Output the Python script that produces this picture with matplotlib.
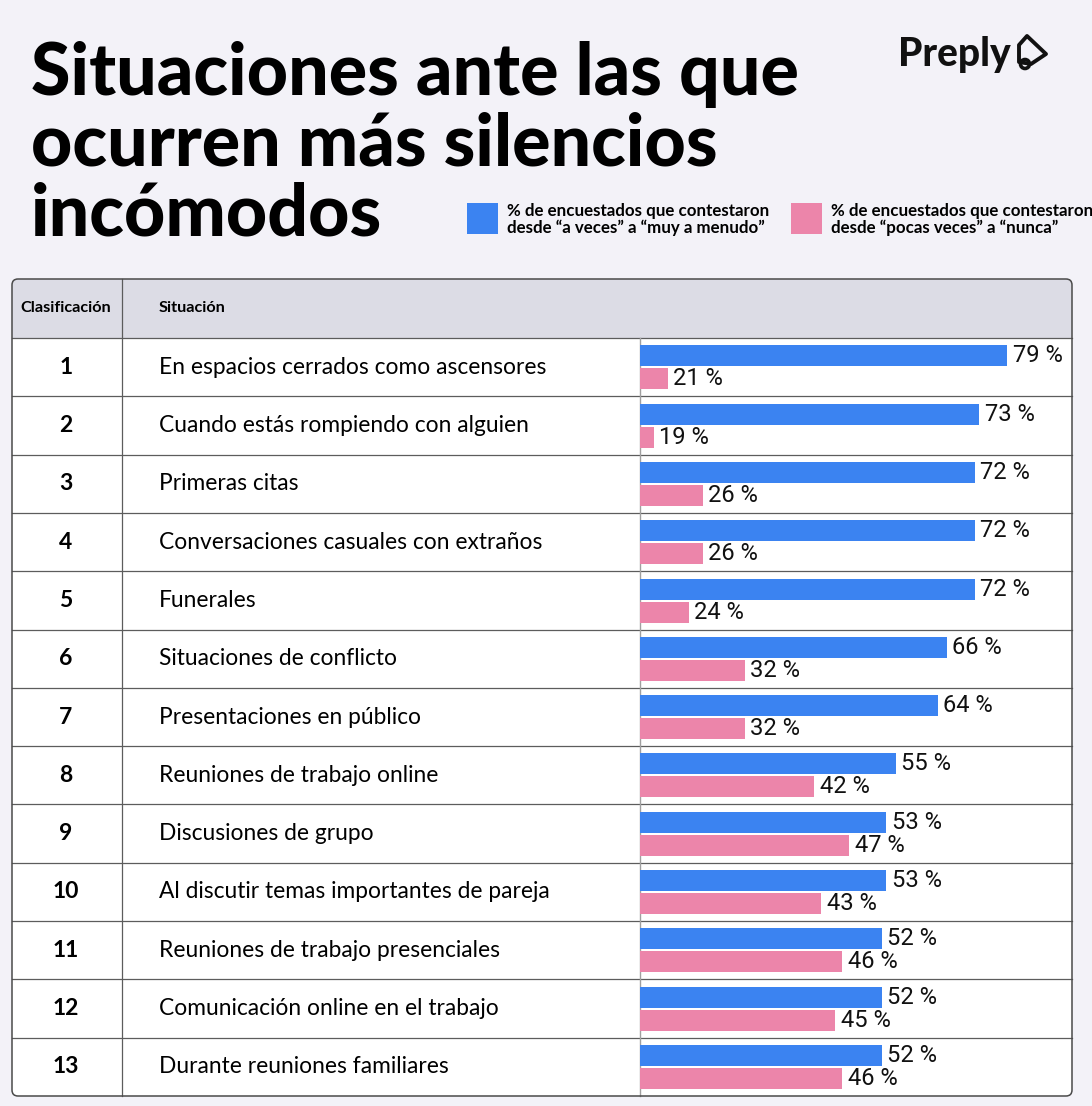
import numpy as np
import matplotlib.pyplot as plt
from matplotlib.patches import FancyBboxPatch, Rectangle, Polygon, Circle
from matplotlib.font_manager import FontProperties
from matplotlib.textpath import TextPath

# datos
ranks = list(range(1, 14))
situaciones = [
    "En espacios cerrados como ascensores",
    "Cuando estás rompiendo con alguien",
    "Primeras citas",
    "Conversaciones casuales con extraños",
    "Funerales",
    "Situaciones de conflicto",
    "Presentaciones en público",
    "Reuniones de trabajo online",
    "Discusiones de grupo",
    "Al discutir temas importantes de pareja",
    "Reuniones de trabajo presenciales",
    "Comunicación online en el trabajo",
    "Durante reuniones familiares",
]
a_menudo = [79, 73, 72, 72, 72, 66, 64, 55, 53, 53, 52, 52, 52]
pocas_veces = [21, 19, 26, 26, 24, 32, 32, 42, 47, 43, 46, 45, 46]

titulo = ["Situaciones ante las que", "ocurren más silencios", "incómodos"]
leyenda = ["% de encuestados que contestaron\ndesde “a veces” a “muy a menudo”",
           "% de encuestados que contestaron\ndesde “pocas veces” a “nunca”"]
cabecera = ["Clasificación", "Situación"]

AZUL = "#3b83f1"
ROSA = "#ec85aa"
FONDO = "#f3f2f8"
GRIS_CAB = "#dcdce5"
LINEA = "#5c5c5c"

TITLE_FONT = dict(family=["Lato", "DejaVu Sans"], weight="black")
BODY_FONT = dict(family=["Lato", "DejaVu Sans"])
BOLD_FONT = dict(family=["Lato", "DejaVu Sans"], weight="bold")
LEG_FONT = dict(family=["Lato", "DejaVu Sans"], weight="bold")
LABEL_FONT = dict(family=["Liberation Sans Narrow", "Roboto", "DejaVu Sans"])


def fit(s, px, **font):
    # font size (pt) so that the ink width of s is px pixels at dpi 100
    w = TextPath((0, 0), s, size=100, prop=FontProperties(**font)).get_extents().width
    return 72 * px / w


W, H = 1092, 1106
fig = plt.figure(figsize=(W / 100, H / 100), dpi=100)
fig.patch.set_facecolor(FONDO)

bg = fig.add_axes([0, 0, 1, 1])
bg.set_xlim(0, W)
bg.set_ylim(H, 0)
bg.axis("off")

# titulo
ts = fit(titulo[0], 764, **TITLE_FONT)
for linea, yb in zip(titulo, [95, 165, 235]):
    bg.text(31, yb, linea, fontsize=ts, va="baseline", ha="left", color="black", **TITLE_FONT)

# logo
bg.text(898, 66, "Preply", fontsize=fit("Preply", 110, **TITLE_FONT), va="baseline", color="#111111", **TITLE_FONT)
bg.add_patch(Polygon([(1019, 62), (1019, 45), (1027, 36), (1046, 54), (1031, 64)], closed=True,
                     fill=False, ec="#111111", lw=2.8, joinstyle="round"))
bg.add_patch(Circle((1025, 64), 4.5, fill=False, ec="#111111", lw=2.6))

# leyenda
ls = fit("% de encuestados que contestaron", 261, **LEG_FONT)
for x0, col, txt in zip([467, 791], [AZUL, ROSA], leyenda):
    bg.add_patch(Rectangle((x0, 203), 31, 31, color=col, lw=0))
    bg.text(x0 + 40, 219.5, txt, fontsize=ls, va="center", ha="left", linespacing=1.0, **LEG_FONT)

# tabla
top, head, bottom = 279, 338, 1096
left, right = 12, 1072
frame = FancyBboxPatch((left, top), right - left, bottom - top,
                       boxstyle="round,pad=0,rounding_size=6", fc="white", ec="none", zorder=0)
bg.add_patch(frame)
cab = Rectangle((left, top), right - left, head - top, fc=GRIS_CAB, ec="none", zorder=1)
bg.add_patch(cab)
cab.set_clip_path(frame)

hs = fit(cabecera[0], 89, **BOLD_FONT)
bg.text(66, 308, cabecera[0], fontsize=hs, ha="center", va="center", **BOLD_FONT)
bg.text(159, 308, cabecera[1], fontsize=hs, ha="left", va="center", **BOLD_FONT)

row_h = (bottom - head) / len(ranks)
bs = fit(situaciones[0], 383, **BODY_FONT)
for i, (r, s) in enumerate(zip(ranks, situaciones)):
    yc = head + (i + 0.5) * row_h
    bg.text(66, yc, str(r), fontsize=16.5, ha="center", va="center", **BOLD_FONT)
    bg.text(159, yc, s, fontsize=bs, ha="left", va="center", **BODY_FONT)
    bg.plot([left, right], [head + i * row_h] * 2, color=LINEA, lw=0.9, zorder=2)

bg.plot([122, 122], [top, bottom], color=LINEA, lw=0.9, zorder=2)
bg.plot([640, 640], [head, bottom], color="#a0a0a0", lw=1.0, zorder=2)
bg.add_patch(FancyBboxPatch((left, top), right - left, bottom - top,
                            boxstyle="round,pad=0,rounding_size=6", fc="none", ec="#4a4a4a",
                            lw=1.1, zorder=3))

# barras
ax = fig.add_axes([640 / W, 1 - bottom / H, (right - 640) / W, (bottom - head) / H])
y = np.arange(len(ranks))
ax.set_xlim(0, (right - 640) / 4.65)
ax.set_ylim(len(ranks) - 0.5, -0.5)
ax.barh(y - 0.195, a_menudo, height=0.36, color=AZUL, zorder=3)
lab = fit("79 %", 48, **LABEL_FONT)
for yi, v in zip(y, a_menudo):
    ax.annotate(f"{v} %", (v, yi - 0.195), xytext=(4, 0), textcoords="offset points",
                ha="left", va="center", fontsize=lab, color="#111111", **LABEL_FONT)
ax.axis("off")

ax2 = ax.twiny()
p0 = 17
ax2.set_xlim(p0, p0 + (right - 640) / 6.97)
ax2.barh(y + 0.2, np.array(pocas_veces) - p0, left=p0, height=0.36, color=ROSA, zorder=3)
for yi, v in zip(y, pocas_veces):
    ax2.annotate(f"{v} %", (v, yi + 0.2), xytext=(4, 0), textcoords="offset points",
                 ha="left", va="center", fontsize=lab, color="#111111", **LABEL_FONT)
ax2.axis("off")

fig.savefig("out.png", dpi=100, facecolor=fig.get_facecolor())
